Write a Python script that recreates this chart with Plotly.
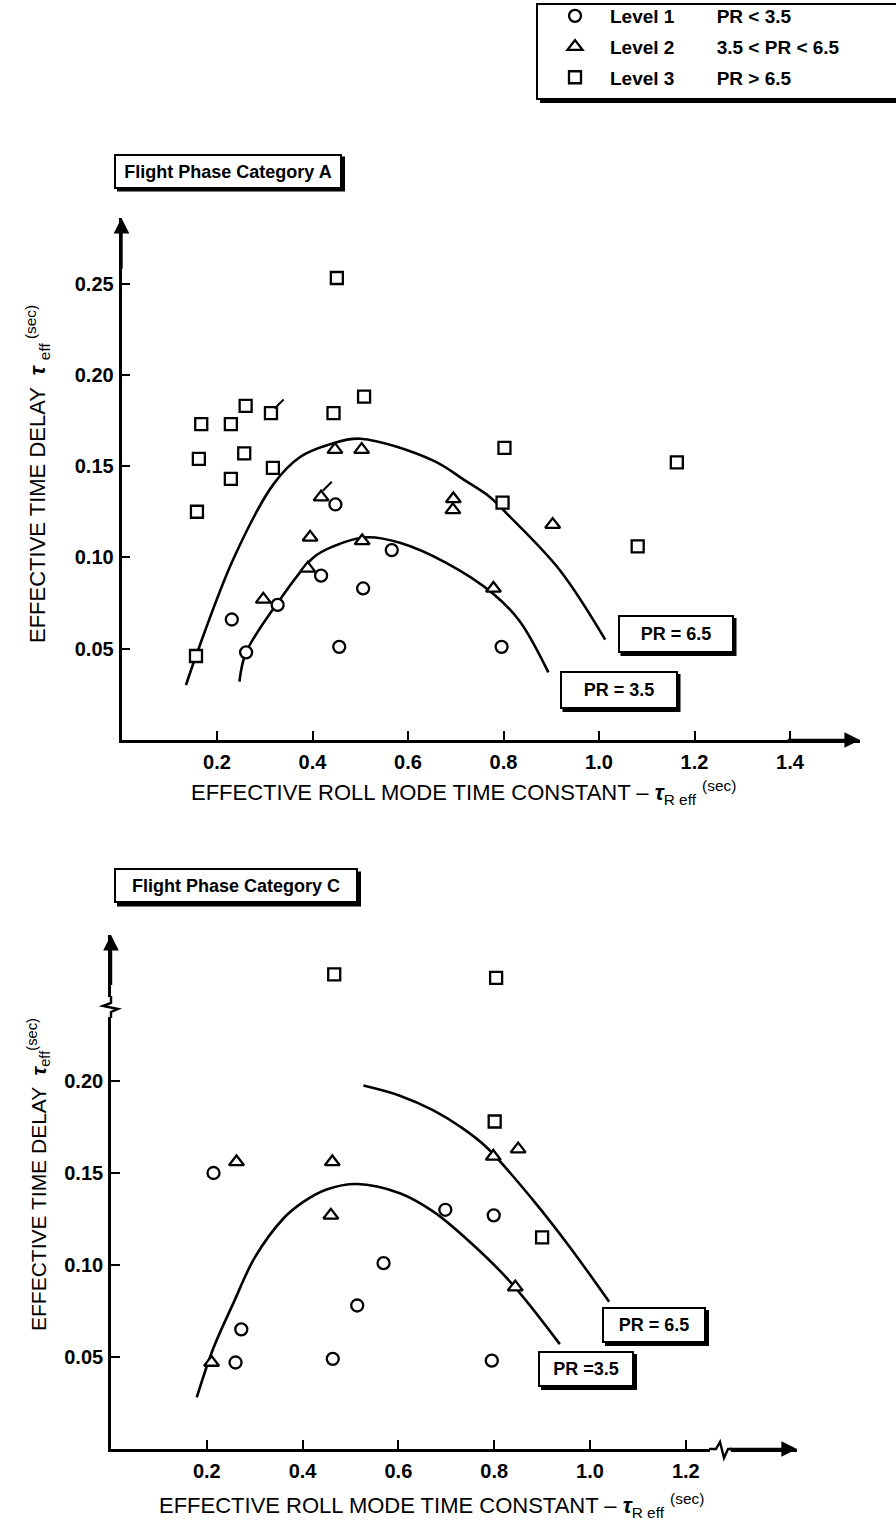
import plotly.graph_objects as go

W, H = 896, 1528

# ---------------- data : Flight Phase Category A (top) ----------------
a_lvl1_x = [0.448, 0.566, 0.418, 0.327, 0.231, 0.261, 0.456, 0.506, 0.796]
a_lvl1_y = [0.129, 0.104, 0.090, 0.074, 0.066, 0.048, 0.051, 0.083, 0.051]

a_lvl2_x = [0.447, 0.503, 0.418, 0.695, 0.694, 0.395, 0.504, 0.903, 0.779, 0.390, 0.297]
a_lvl2_y = [0.159, 0.159, 0.133, 0.132, 0.126, 0.111, 0.109, 0.118, 0.083, 0.094, 0.077]

a_lvl3_x = [0.451, 0.508, 0.444, 0.313, 0.260, 0.167, 0.229, 0.162, 0.257, 0.229,
            0.317, 0.158, 0.802, 0.798, 1.163, 1.081, 0.156]
a_lvl3_y = [0.253, 0.188, 0.179, 0.179, 0.183, 0.173, 0.173, 0.154, 0.157, 0.143,
            0.149, 0.125, 0.160, 0.130, 0.152, 0.106, 0.046]

# points flagged with a small slash in the original figure (index into arrays)
a_flag_lvl3 = [3]
a_flag_lvl2 = [2]

a_pr65_x = [0.135, 0.156, 0.234, 0.318, 0.374, 0.437, 0.500, 0.653, 0.720, 0.772, 0.807, 0.918, 1.013]
a_pr65_y = [0.030, 0.046, 0.099, 0.140, 0.155, 0.162, 0.165, 0.153, 0.142, 0.133, 0.124, 0.093, 0.055]

a_pr35_x = [0.247, 0.261, 0.332, 0.402, 0.443, 0.513, 0.583, 0.680, 0.779, 0.834, 0.894]
a_pr35_y = [0.032, 0.048, 0.077, 0.100, 0.106, 0.111, 0.108, 0.097, 0.080, 0.065, 0.037]

# ---------------- data : Flight Phase Category C (bottom) ----------------
c_lvl1_x = [0.214, 0.698, 0.799, 0.569, 0.514, 0.272, 0.260, 0.463, 0.795]
c_lvl1_y = [0.150, 0.130, 0.127, 0.101, 0.078, 0.065, 0.047, 0.049, 0.048]

c_lvl2_x = [0.262, 0.462, 0.459, 0.798, 0.850, 0.844, 0.210]
c_lvl2_y = [0.156, 0.156, 0.127, 0.159, 0.163, 0.088, 0.047]

c_lvl3_x = [0.466, 0.804, 0.801, 0.900]
c_lvl3_y = [0.258, 0.256, 0.178, 0.115]

c_pr35_x = [0.179, 0.214, 0.255, 0.300, 0.359, 0.400, 0.450, 0.513, 0.603, 0.673, 0.743, 0.833, 0.937]
c_pr35_y = [0.028, 0.055, 0.079, 0.104, 0.125, 0.134, 0.141, 0.144, 0.139, 0.129, 0.114, 0.091, 0.057]

c_pr65_x = [0.527, 0.603, 0.673, 0.730, 0.784, 0.882, 0.960, 1.040]
c_pr65_y = [0.1975, 0.192, 0.184, 0.175, 0.164, 0.135, 0.109, 0.080]

# tick labels
a_xticks = [0.2, 0.4, 0.6, 0.8, 1.0, 1.2, 1.4]
a_yticks = [0.05, 0.10, 0.15, 0.20, 0.25]
c_xticks = [0.2, 0.4, 0.6, 0.8, 1.0, 1.2]
c_yticks = [0.05, 0.10, 0.15, 0.20]

levels = [
    ("Level 1", "PR < 3.5", "circle"),
    ("Level 2", "3.5 < PR < 6.5", "triangle-up"),
    ("Level 3", "PR > 6.5", "square"),
]

FONT = "Liberation Sans, Arial, sans-serif"
NB = "\u00a0"

fig = go.Figure()


def curve(xs, ys, xa, ya):
    fig.add_trace(go.Scatter(x=xs, y=ys, xaxis=xa, yaxis=ya, mode="lines",
                             line=dict(color="black", width=2.6, shape="spline", smoothing=1.0),
                             showlegend=False, hoverinfo="skip"))


def pts(xs, ys, xa, ya, idx, show):
    name, pr, sym = levels[idx]
    label = f"{name}{NB * 8}{pr}"
    fig.add_trace(go.Scatter(x=xs, y=ys, xaxis=xa, yaxis=ya, mode="markers",
                             name=label, legendgroup=name, showlegend=show,
                             marker=dict(symbol=sym, size=12 if sym != "triangle-up" else 13,
                                         color="white", line=dict(color="black", width=2.3))))


def flags(xs, ys, idxs, xa, ya, dx, dy):
    fig.add_trace(go.Scatter(x=[xs[i] + dx for i in idxs], y=[ys[i] + dy for i in idxs],
                             xaxis=xa, yaxis=ya, mode="markers", showlegend=False,
                             hoverinfo="skip",
                             marker=dict(symbol="line-ne", size=9,
                                         line=dict(color="black", width=2))))


curve(a_pr65_x, a_pr65_y, "x", "y")
curve(a_pr35_x, a_pr35_y, "x", "y")
pts(a_lvl1_x, a_lvl1_y, "x", "y", 0, True)
pts(a_lvl2_x, a_lvl2_y, "x", "y", 1, True)
pts(a_lvl3_x, a_lvl3_y, "x", "y", 2, True)
flags(a_lvl3_x, a_lvl3_y, a_flag_lvl3, "x", "y", 0.017, 0.005)
flags(a_lvl2_x, a_lvl2_y, a_flag_lvl2, "x", "y", 0.013, 0.006)

curve(c_pr65_x, c_pr65_y, "x2", "y2")
curve(c_pr35_x, c_pr35_y, "x2", "y2")
pts(c_lvl1_x, c_lvl1_y, "x2", "y2", 0, False)
pts(c_lvl2_x, c_lvl2_y, "x2", "y2", 1, False)
pts(c_lvl3_x, c_lvl3_y, "x2", "y2", 2, False)

# ---- geometry (pixels) ----
A_X0, A_XEND, A_XSCALE = 121.5, 860, 477.5
A_Y0, A_YTOP, A_YSCALE = 740, 218, 1826
C_X0, C_XEND, C_XSCALE = 111, 797, 479
C_Y0, C_YTOP, C_YSCALE = 1449, 935, 1840

a_xmax = (A_XEND - A_X0) / A_XSCALE
a_ymax = (A_Y0 - A_YTOP) / A_YSCALE
c_xmax = (C_XEND - C_X0) / C_XSCALE
c_ymax = (C_Y0 - C_YTOP) / C_YSCALE

tickfont = dict(family=FONT, size=20, color="black", weight="bold")
axcommon = dict(showline=True, linecolor="black", linewidth=2.6, ticks="inside",
                ticklen=9, tickwidth=2, tickcolor="black", showgrid=False,
                zeroline=False, tickfont=tickfont, automargin=False)

fig.update_layout(
    xaxis=dict(domain=[A_X0 / W, A_XEND / W], range=[0, a_xmax], anchor="y",
               tickvals=a_xticks, ticktext=[f"{v:.1f}" for v in a_xticks],
               ticklabelstandoff=2, **axcommon),
    yaxis=dict(domain=[1 - A_Y0 / H, 1 - A_YTOP / H], range=[0, a_ymax], anchor="x",
               tickvals=a_yticks, ticktext=[f"{v:.2f}" for v in a_yticks],
               ticklabelstandoff=1, **axcommon),
    xaxis2=dict(domain=[C_X0 / W, C_XEND / W], range=[0, c_xmax], anchor="y2",
                tickvals=c_xticks, ticktext=[f"{v:.1f}" for v in c_xticks],
                ticklabelstandoff=2, **axcommon),
    yaxis2=dict(domain=[1 - C_Y0 / H, 1 - C_YTOP / H], range=[0, c_ymax], anchor="x2",
                tickvals=c_yticks, ticktext=[f"{v:.2f}" for v in c_yticks],
                ticklabelstandoff=1, **axcommon),
    width=W, height=H, margin=dict(l=0, r=0, t=0, b=0, autoexpand=False),
    paper_bgcolor="white", plot_bgcolor="white",
    showlegend=True,
    legend=dict(x=540 / W, y=1 + 3 / H, xanchor="left", yanchor="top",
                bgcolor="rgba(0,0,0,0)", borderwidth=0, itemwidth=60,
                font=dict(family=FONT, size=19, color="black", weight="bold"),
                tracegroupgap=3, itemclick=False, itemdoubleclick=False),
)

ann = []
# arrowheads
for xa, ya, xm, ym in [("x", "y", a_xmax, a_ymax), ("x2", "y2", c_xmax, c_ymax)]:
    ann.append(dict(x=xm, y=0, ax=xm * 0.9, ay=0, xref=xa, yref=ya, axref=xa, ayref=ya,
                    text="", showarrow=True, arrowhead=2, arrowsize=1.3, arrowwidth=2.4,
                    arrowcolor="black"))
    ann.append(dict(x=0, y=ym, ax=0, ay=ym * 0.9, xref=xa, yref=ya, axref=xa, ayref=ya,
                    text="", showarrow=True, arrowhead=2, arrowsize=1.3, arrowwidth=2.4,
                    arrowcolor="black"))

tau = "<b><i>\u03c4</i></b>"
titlefont = dict(family=FONT, size=22, color="black")
xt = f"EFFECTIVE ROLL MODE TIME CONSTANT \u2013 {tau}<sub>R eff</sub> <sup>(sec)</sup>"
ann.append(dict(x=463 / W, y=1 - 792 / H, xref="paper", yref="paper", showarrow=False,
                text=xt, font=titlefont, xanchor="center", yanchor="middle"))
ann.append(dict(x=431 / W, y=1 - 1505 / H, xref="paper", yref="paper", showarrow=False,
                text=xt, font=titlefont, xanchor="center", yanchor="middle"))
ann.append(dict(x=38 / W, y=1 - 474 / H, xref="paper", yref="paper", showarrow=False,
                text=f"EFFECTIVE TIME DELAY  {tau} <sub>eff</sub><sup> (sec)</sup>",
                font=titlefont, textangle=-90, xanchor="center", yanchor="middle"))
ann.append(dict(x=38 / W, y=1 - 1175 / H, xref="paper", yref="paper", showarrow=False,
                text=f"EFFECTIVE TIME DELAY  {tau}<sub>eff</sub><sup>(sec)</sup>",
                font=dict(family=FONT, size=21, color="black"), textangle=-90,
                xanchor="center", yanchor="middle"))

boxfont = dict(family=FONT, size=18, color="black", weight="bold")
shadows = []


def box(text, cx, cy, w, h, panel=None):
    """cx, cy: box centre in pixels; panel: (xref, yref, x0, xscale, y0, yscale) or None."""
    if panel is None:
        x, y, xr, yr = cx / W, 1 - cy / H, "paper", "paper"
    else:
        xr, yr, px0, pxs, py0, pys = panel
        x, y = (cx - px0) / pxs, (py0 - cy) / pys
    ann.append(dict(x=x, y=y, xref=xr, yref=yr, text=text, showarrow=False,
                    font=boxfont, bgcolor="white", bordercolor="black", borderwidth=2,
                    width=w, height=h, align="center", valign="middle",
                    xanchor="center", yanchor="middle"))
    ow, oh = w + 6, h + 6
    shadows.append(dict(type="rect", xref="paper", yref="paper", layer="above",
                        fillcolor="black", line=dict(width=0),
                        x0=(cx - ow / 2 + 3) / W, x1=(cx + ow / 2 + 3) / W,
                        y0=1 - (cy + oh / 2 + 3) / H, y1=1 - (cy - oh / 2 + 3) / H))


PA = ("x", "y", A_X0, A_XSCALE, A_Y0, A_YSCALE)
PC = ("x2", "y2", C_X0, C_XSCALE, C_Y0, C_YSCALE)
box("Flight Phase Category A", 228, 171, 222, 29)
box("Flight Phase Category C", 236, 886, 238, 29)
box("PR = 6.5", 675.5, 634, 110, 32, PA)
box("PR = 3.5", 618.5, 690, 112, 32, PA)
box("PR = 6.5", 654, 1325, 98, 30, PC)
box("PR =3.5", 586, 1369, 90, 30, PC)

fig.update_layout(annotations=ann)


def P(px, py):
    return f"{px / W:.5f},{1 - py / H:.5f}"


def R(x0, y0, x1, y1):
    return dict(x0=x0 / W, x1=x1 / W, y0=1 - y1 / H, y1=1 - y0 / H)


shapes = [
    # legend frame with shadow
    dict(type="rect", xref="paper", yref="paper", layer="below", fillcolor="black",
         line=dict(width=0), **R(540, 7, 910, 103)),
    dict(type="rect", xref="paper", yref="paper", layer="below", fillcolor="white",
         line=dict(color="black", width=2), **R(537, 4, 910, 99)),
] + shadows + [
    # erase y-axis segment and draw squiggle (bottom panel)
    dict(type="line", xref="paper", yref="paper", x0=C_X0 / W, x1=C_X0 / W,
         y0=1 - 1017 / H, y1=1 - 997 / H, line=dict(color="white", width=6), layer="above"),
    dict(type="path", xref="paper", yref="paper", layer="above",
         path=f"M {P(C_X0, 1018)} L {P(C_X0, 1012)} L {P(C_X0 + 7, 1009)} L {P(C_X0 - 8, 1006)} "
              f"L {P(C_X0, 1003)} L {P(C_X0, 996)}",
         line=dict(color="black", width=2.4)),
    # erase x-axis segment and draw zigzag
    dict(type="line", xref="paper", yref="paper", x0=710 / W, x1=731 / W,
         y0=1 - C_Y0 / H, y1=1 - C_Y0 / H, line=dict(color="white", width=6), layer="above"),
    dict(type="path", xref="paper", yref="paper", layer="above",
         path=f"M {P(709, C_Y0)} L {P(716, C_Y0)} L {P(720, C_Y0 - 7)} L {P(724, C_Y0 + 9)} "
              f"L {P(728, C_Y0)} L {P(732, C_Y0)}",
         line=dict(color="black", width=2.4)),
]
fig.update_layout(shapes=shapes)

fig.write_html("out.html")
